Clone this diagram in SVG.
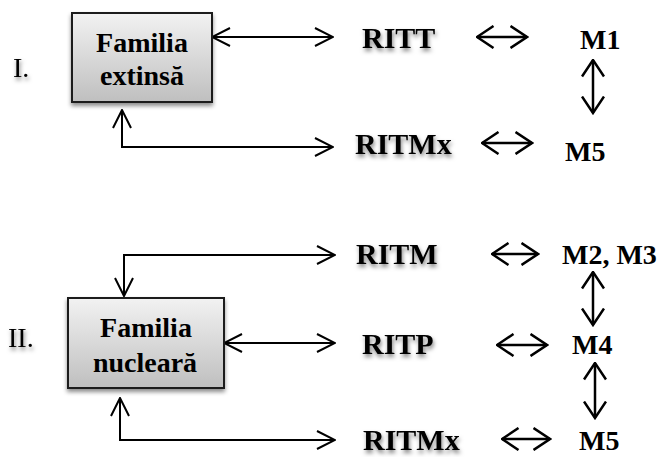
<svg xmlns="http://www.w3.org/2000/svg" width="662" height="457" viewBox="0 0 662 457">
<style>
.box{fill:url(#g);stroke:#1a1a1a;stroke-width:2;filter:url(#bs)}
.bt{font-family:"Liberation Serif","Times New Roman",serif;font-weight:bold;font-size:28px;fill:#000;text-anchor:middle}
.lb{font-family:"Liberation Serif","Times New Roman",serif;font-weight:bold;font-size:30px;fill:#000;filter:url(#ts)}
.m{font-family:"Liberation Serif","Times New Roman",serif;font-weight:bold;font-size:28px;fill:#000}
.rn{font-family:"Liberation Serif","Times New Roman",serif;font-size:28px;fill:#000;filter:url(#ts)}
.c{fill:none;stroke:#000;stroke-width:2;marker-start:url(#a);marker-end:url(#a)}
.s{fill:none;stroke:#000;stroke-width:2.5;marker-start:url(#b);marker-end:url(#b)}
</style>
<defs>
<linearGradient id="g" x1="0" y1="0" x2="0" y2="1">
<stop offset="0" stop-color="#f2f2f2"/>
<stop offset="1" stop-color="#bfbfbf"/>
</linearGradient>
<filter id="bs" x="-10%" y="-10%" width="125%" height="130%">
<feDropShadow dx="0" dy="3" stdDeviation="2" flood-color="#000" flood-opacity="0.45"/>
</filter>
<filter id="ts" x="-10%" y="-20%" width="130%" height="160%">
<feDropShadow dx="1" dy="3" stdDeviation="2" flood-color="#000" flood-opacity="0.5"/>
</filter>
<marker id="a" viewBox="0 0 20 20" refX="19" refY="10" markerWidth="20" markerHeight="20" markerUnits="userSpaceOnUse" orient="auto-start-reverse">
<path d="M1,1 L19,10 L1,19" fill="none" stroke="#000" stroke-width="2"/>
</marker>
<marker id="b" viewBox="0 0 19 24" refX="17.5" refY="12" markerWidth="19" markerHeight="24" markerUnits="userSpaceOnUse" orient="auto-start-reverse">
<path d="M1,1 L17.5,12 L1,23" fill="none" stroke="#000" stroke-width="2.5"/>
</marker>
</defs>

<g id="connectors">
<path class="c" d="M212,37 L333,37"/>
<path class="c" d="M122,110 L122,147 L333,147"/>
<path class="s" d="M477,37 L527,37"/>
<path class="s" d="M593,60 L593,113"/>
<path class="s" d="M482,143 L532,143"/>
<path class="c" d="M124,296 L124,255 L335,255"/>
<path class="c" d="M224,343 L335,343"/>
<path class="c" d="M120,398 L120,440 L335,440"/>
<path class="s" d="M492,254 L538,254"/>
<path class="s" d="M593,272 L593,325"/>
<path class="s" d="M497,345 L547,345"/>
<path class="s" d="M595,363 L595,418"/>
<path class="s" d="M502,439 L550,439"/>
</g>

<g id="label-I"><text class="rn" x="13" y="77">I.</text></g>
<g id="familia-extinsa">
<rect class="box" x="72" y="13" width="140" height="89"/>
<text class="bt" x="142" y="52">Familia</text>
<text class="bt" x="142" y="85">extinsă</text>
</g>
<g id="ritt"><text class="lb" x="362" y="48">RITT</text></g>
<g id="m1"><text class="m" x="580" y="49">M1</text></g>
<g id="ritmx1"><text class="lb" x="355" y="154">RITMx</text></g>
<g id="m5a"><text class="m" x="565" y="161">M5</text></g>

<g id="label-II"><text class="rn" x="8" y="347">II.</text></g>
<g id="familia-nucleara">
<rect class="box" x="68" y="298" width="156" height="90"/>
<text class="bt" x="146" y="337">Familia</text>
<text class="bt" x="145" y="372">nucleară</text>
</g>
<g id="ritm"><text class="lb" x="356" y="264">RITM</text></g>
<g id="m2m3"><text class="m" x="562" y="264">M2, M3</text></g>
<g id="ritp"><text class="lb" x="362" y="354">RITP</text></g>
<g id="m4"><text class="m" x="572" y="354">M4</text></g>
<g id="ritmx2"><text class="lb" x="363" y="450">RITMx</text></g>
<g id="m5b"><text class="m" x="579" y="450">M5</text></g>
</svg>
